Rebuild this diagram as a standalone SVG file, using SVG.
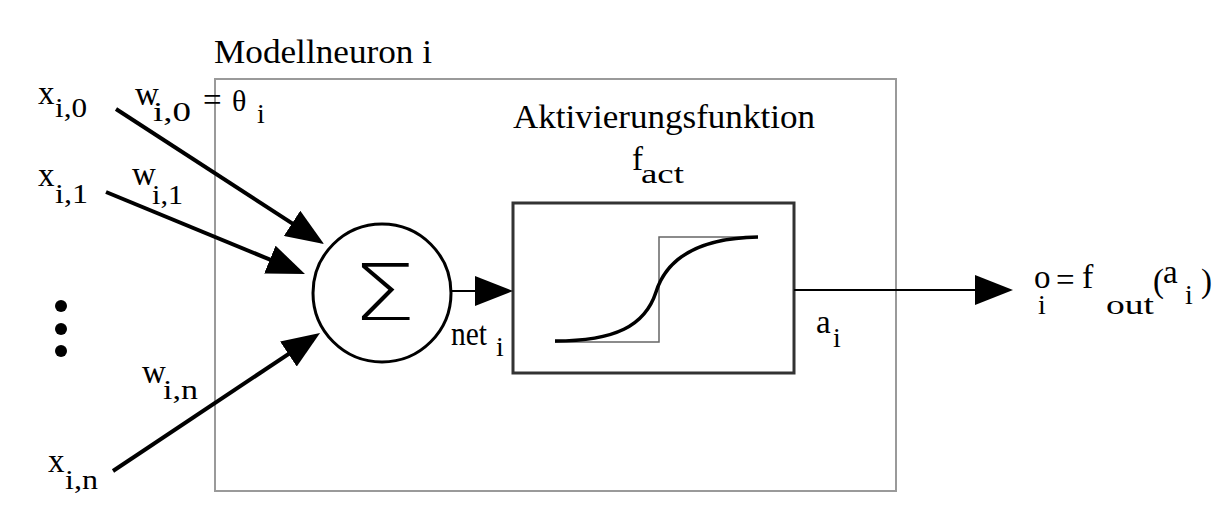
<svg xmlns="http://www.w3.org/2000/svg" width="1216" height="507" viewBox="0 0 1216 507">
<style>
text{font-family:"Liberation Serif","Times New Roman",serif;fill:#000}
.m{font-size:33px}
.s{font-size:28px}
.thick{stroke:#000;stroke-width:4;fill:none}
.thin{stroke:#000;stroke-width:2;fill:none}
</style>
<defs>
<marker id="ah" markerUnits="userSpaceOnUse" viewBox="0 0 38 30" refX="18" refY="15" markerWidth="38" markerHeight="30" orient="auto">
<path d="M0,0 L38,15 L0,30 z" fill="#000"/>
</marker>
</defs>
<rect width="1216" height="507" fill="#fff"/>
<g id="neuron-box">
<rect x="215" y="79" width="681" height="412" fill="none" stroke="#9a9a9a" stroke-width="2"/>
<text class="m" x="214" y="63" textLength="218" lengthAdjust="spacingAndGlyphs">Modellneuron i</text>
</g>
<g id="inputs">
<text class="m" x="38" y="104">x</text><text class="s" x="55" y="117" textLength="32" lengthAdjust="spacingAndGlyphs">i,0</text>
<text class="m" x="135" y="105">w</text><text class="s" x="153" y="121" textLength="38" lengthAdjust="spacingAndGlyphs">i,0</text>
<text class="m" x="203" y="111">=</text><text class="m" x="232" y="111" style="font-size:30px">θ</text><text class="s" x="257" y="123">i</text>
<text class="m" x="38" y="186">x</text><text class="s" x="55" y="203" textLength="33" lengthAdjust="spacingAndGlyphs">i,1</text>
<text class="m" x="132" y="185">w</text><text class="s" x="152" y="204" textLength="31" lengthAdjust="spacingAndGlyphs">i,1</text>
<circle cx="61" cy="306" r="6"/><circle cx="61" cy="329" r="6"/><circle cx="61" cy="351" r="6"/>
<text class="m" x="142" y="383">w</text><text class="s" x="163" y="399" textLength="35" lengthAdjust="spacingAndGlyphs">i,n</text>
<text class="m" x="48" y="472">x</text><text class="s" x="65" y="489" textLength="33" lengthAdjust="spacingAndGlyphs">i,n</text>
</g>
<g id="sum">
<circle cx="382" cy="293" r="69" fill="none" stroke="#000" stroke-width="3"/>
<text x="384" y="320" text-anchor="middle" style="font-family:'DejaVu Sans','Liberation Sans',sans-serif;font-size:78px;font-weight:200" transform="translate(384 0) scale(1.3 1) translate(-384 0)">Σ</text>
</g>
<g id="activation">
<text class="m" x="513" y="128" textLength="302" lengthAdjust="spacingAndGlyphs">Aktivierungsfunktion</text>
<text class="m" x="632" y="170">f</text><text class="s" x="641" y="183" textLength="43" lengthAdjust="spacingAndGlyphs">act</text>
<rect x="513" y="203" width="281" height="170" fill="none" stroke="#333" stroke-width="3"/>
<polyline points="555,342 659,342 659,237 758,237" fill="none" stroke="#666" stroke-width="1.5"/>
<path d="M555,341 C615,341 645,326 656,292 C668,254 705,238 758,237" fill="none" stroke="#000" stroke-width="3.5"/>
</g>
<g id="connectors">
<line class="thick" x1="116" y1="109" x2="307.2" y2="233.1" marker-end="url(#ah)"/>
<line class="thick" x1="106" y1="192" x2="286.5" y2="266.4" marker-end="url(#ah)"/>
<line class="thick" x1="113" y1="471" x2="303.4" y2="344.1" marker-end="url(#ah)"/>
<line class="thin" x1="451" y1="291" x2="493" y2="291" marker-end="url(#ah)"/>
<line class="thin" x1="794" y1="290" x2="993" y2="290" marker-end="url(#ah)"/>
</g>
<g id="labels">
<text class="m" x="451" y="345" textLength="36" lengthAdjust="spacingAndGlyphs">net</text><text class="s" x="496" y="356">i</text>
<text class="m" x="816" y="333">a</text><text class="s" x="833" y="347">i</text>
<text class="m" x="1034" y="288">o</text><text class="s" x="1038" y="314">i</text>
<text class="m" x="1056" y="291">=</text>
<text class="m" x="1082" y="288" style="font-size:34px">f</text><text class="s" x="1106" y="314" textLength="48" lengthAdjust="spacingAndGlyphs">out</text>
<text class="m" x="1153" y="292">(</text><text class="m" x="1163" y="283">a</text><text class="s" x="1185" y="304">i</text><text class="m" x="1201" y="292">)</text>
</g>
</svg>
